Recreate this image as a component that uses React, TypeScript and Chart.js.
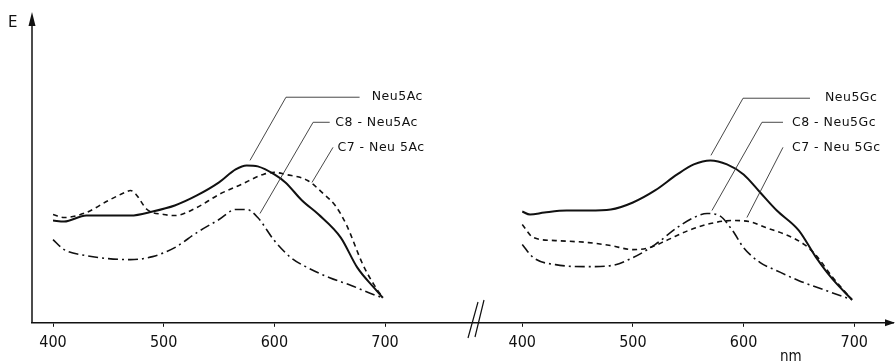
import React, { useEffect, useRef } from "react";
import { Chart, registerables } from "chart.js";

Chart.register(...registerables);

// ---- Data (E in arbitrary units, wavelength in nm) ----
const neu5AcNm = [400, 410, 430, 470, 490, 510, 530, 550, 565, 575, 585, 600, 610, 625, 640, 660, 675, 690, 698];
const neu5AcE = [1.02, 1.01, 1.07, 1.07, 1.11, 1.17, 1.27, 1.4, 1.53, 1.57, 1.56, 1.48, 1.4, 1.22, 1.08, 0.85, 0.55, 0.35, 0.25];

const c7Neu5AcNm = [400, 410, 430, 450, 465, 470, 475, 485, 500, 510, 530, 550, 570, 590, 600, 610, 630, 645, 655, 665, 680, 690, 698];
const c7Neu5AcE = [1.08, 1.05, 1.1, 1.22, 1.3, 1.32, 1.28, 1.13, 1.08, 1.07, 1.15, 1.28, 1.38, 1.48, 1.5, 1.48, 1.42, 1.28, 1.17, 0.98, 0.58, 0.38, 0.25];

const c8Neu5AcNm = [400, 410, 430, 450, 470, 490, 510, 530, 550, 565, 575, 585, 600, 615, 630, 650, 670, 690, 698];
const c8Neu5AcE = [0.83, 0.73, 0.67, 0.64, 0.63, 0.66, 0.75, 0.9, 1.03, 1.13, 1.13, 1.05, 0.82, 0.65, 0.55, 0.45, 0.37, 0.28, 0.25];

const neu5GcNm = [400, 407, 420, 440, 460, 480, 500, 520, 540, 555, 570, 585, 600, 615, 630, 650, 665, 680, 698];
const neu5GcE = [1.11, 1.08, 1.1, 1.12, 1.12, 1.13, 1.2, 1.32, 1.48, 1.58, 1.62, 1.58, 1.48, 1.3, 1.12, 0.92, 0.66, 0.44, 0.23];

const c7Neu5GcNm = [400, 410, 430, 460, 480, 500, 515, 530, 550, 570, 590, 605, 620, 640, 655, 665, 680, 698];
const c7Neu5GcE = [0.98, 0.85, 0.82, 0.8, 0.77, 0.73, 0.75, 0.82, 0.92, 0.99, 1.02, 1.01, 0.95, 0.87, 0.78, 0.68, 0.46, 0.23];

const c8Neu5GcNm = [400, 410, 430, 460, 480, 500, 520, 540, 555, 567, 578, 590, 600, 615, 630, 650, 675, 698];
const c8Neu5GcE = [0.78, 0.65, 0.58, 0.56, 0.57, 0.65, 0.78, 0.95, 1.05, 1.09, 1.07, 0.92, 0.75, 0.6, 0.52, 0.42, 0.32, 0.23];

const tickNm = [400, 500, 600, 700];

// ---- Layout constants ----
const RIGHT_OFFSET = 424; // shift of the right panel along the shared axis
const X_MIN = 381;
const X_MAX = 1159;
const Y_MAX = 3.1;

const toPts = (nm: number[], e: number[], off: number) => nm.map((v, i) => ({ x: v + off, y: e[i] }));

// annotation leaders: [tipX, tipY, elbowX, elbowY, endX, textX, label] (data coords)
const leaders: [number, number, number, number, number, number, string][] = [
  [578, 1.62, 610.5, 2.25, 677, 688, "Neu5Ac"],
  [587, 1.09, 635, 2.0, 650, 655, "C8 - Neu5Ac"],
  [634, 1.4, 653, 1.75, 653, 657, "C7 - Neu 5Ac"],
  [994.5, 1.67, 1023.5, 2.24, 1084, 1097.5, "Neu5Gc"],
  [995.4, 1.12, 1040.6, 2.0, 1059.6, 1067.7, "C8 - Neu5Gc"],
  [1027, 1.05, 1059.6, 1.75, 1059.6, 1067.7, "C7 - Neu 5Gc"],
];

const FONT = '"DejaVu Sans", "Liberation Sans", sans-serif';
const TICK_FONT = '"DejaVu Sans Condensed", "DejaVu Sans", sans-serif';

const decorPlugin = {
  id: "decor",
  afterDraw(chart: any) {
    const ctx = chart.ctx as CanvasRenderingContext2D;
    const { left, right, top, bottom } = chart.chartArea;
    const xs = chart.scales.x;
    const ys = chart.scales.y;
    ctx.save();
    ctx.strokeStyle = "#111";
    ctx.fillStyle = "#111";
    // y axis
    ctx.lineWidth = 1.5;
    ctx.beginPath();
    ctx.moveTo(left, bottom);
    ctx.lineTo(left, top + 4);
    ctx.stroke();
    ctx.beginPath();
    ctx.moveTo(left, top);
    ctx.lineTo(left - 3.5, top + 14);
    ctx.lineTo(left + 3.5, top + 14);
    ctx.closePath();
    ctx.fill();
    // x arrow
    ctx.beginPath();
    ctx.moveTo(right + 2, bottom);
    ctx.lineTo(right - 8, bottom - 3.5);
    ctx.lineTo(right - 8, bottom + 3.5);
    ctx.closePath();
    ctx.fill();
    // axis break
    ctx.lineWidth = 1.2;
    ctx.beginPath();
    ctx.moveTo(478, 302);
    ctx.lineTo(468, 338);
    ctx.moveTo(484, 300);
    ctx.lineTo(475, 337);
    ctx.stroke();
    // labels
    ctx.font = `15px ${FONT}`;
    ctx.textAlign = "left";
    ctx.textBaseline = "middle";
    ctx.fillText("E", 8, 23);
    ctx.font = `15px ${TICK_FONT}`;
    ctx.fillText("nm", 780, 357);
    // leaders
    ctx.lineWidth = 0.9;
    ctx.strokeStyle = "#333";
    ctx.font = `12.5px ${FONT}`;
    (ctx as any).letterSpacing = "0.5px";
    for (const [tx, ty, ex, ey, endX, textX, label] of leaders) {
      const px = (v: number) => xs.getPixelForValue(v);
      const py = (v: number) => ys.getPixelForValue(v);
      ctx.beginPath();
      ctx.moveTo(px(tx), py(ty));
      ctx.lineTo(px(ex), py(ey));
      ctx.lineTo(px(endX), py(ey));
      ctx.stroke();
      ctx.fillText(label, px(textX), py(ey));
    }
    ctx.restore();
  },
};

export default function App() {
  const ref = useRef<HTMLCanvasElement | null>(null);
  useEffect(() => {
    if (!ref.current) return;
    const common = { pointRadius: 0, borderColor: "#111", fill: false, cubicInterpolationMode: "monotone" as const };
    const solid = { borderWidth: 2, borderDash: [] as number[] };
    const dashed = { borderWidth: 1.6, borderDash: [5, 4] };
    const dashDot = { borderWidth: 1.6, borderDash: [10, 4, 2, 4] };
    const chart = new Chart(ref.current, {
      type: "line",
      data: {
        datasets: [
          { label: "Neu5Ac", data: toPts(neu5AcNm, neu5AcE, 0), ...common, ...solid },
          { label: "C7-Neu5Ac", data: toPts(c7Neu5AcNm, c7Neu5AcE, 0), ...common, ...dashed },
          { label: "C8-Neu5Ac", data: toPts(c8Neu5AcNm, c8Neu5AcE, 0), ...common, ...dashDot },
          { label: "Neu5Gc", data: toPts(neu5GcNm, neu5GcE, RIGHT_OFFSET), ...common, ...solid },
          { label: "C7-Neu5Gc", data: toPts(c7Neu5GcNm, c7Neu5GcE, RIGHT_OFFSET), ...common, ...dashed },
          { label: "C8-Neu5Gc", data: toPts(c8Neu5GcNm, c8Neu5GcE, RIGHT_OFFSET), ...common, ...dashDot },
        ],
      },
      options: {
        animation: false,
        responsive: false,
        layout: { padding: { left: 32, right: 3, top: 12, bottom: 4 } },
        plugins: { legend: { display: false }, tooltip: { enabled: false } },
        scales: {
          x: {
            type: "linear",
            min: X_MIN,
            max: X_MAX,
            afterBuildTicks: (scale: any) => {
              scale.ticks = [...tickNm, ...tickNm.map((v) => v + RIGHT_OFFSET)].map((v) => ({ value: v }));
            },
            ticks: {
              color: "#111",
              font: { family: TICK_FONT, size: 16 },
              padding: 6,
              autoSkip: false,
              maxRotation: 0,
              callback: (v: any) => String(v > 760 ? v - RIGHT_OFFSET : v),
            },
            grid: { display: true, drawOnChartArea: false, tickLength: 4, color: "#111", lineWidth: 1 },
            border: { display: true, color: "#111", width: 1.5 },
          },
          y: { display: false, min: 0, max: Y_MAX },
        },
      },
      plugins: [decorPlugin],
    });
    return () => chart.destroy();
  }, []);
  return (
    <div style={{ position: "absolute", left: 0, top: 0, width: 896, height: 362, background: "#fff" }}>
      <canvas ref={ref} width={896} height={362} />
    </div>
  );
}
